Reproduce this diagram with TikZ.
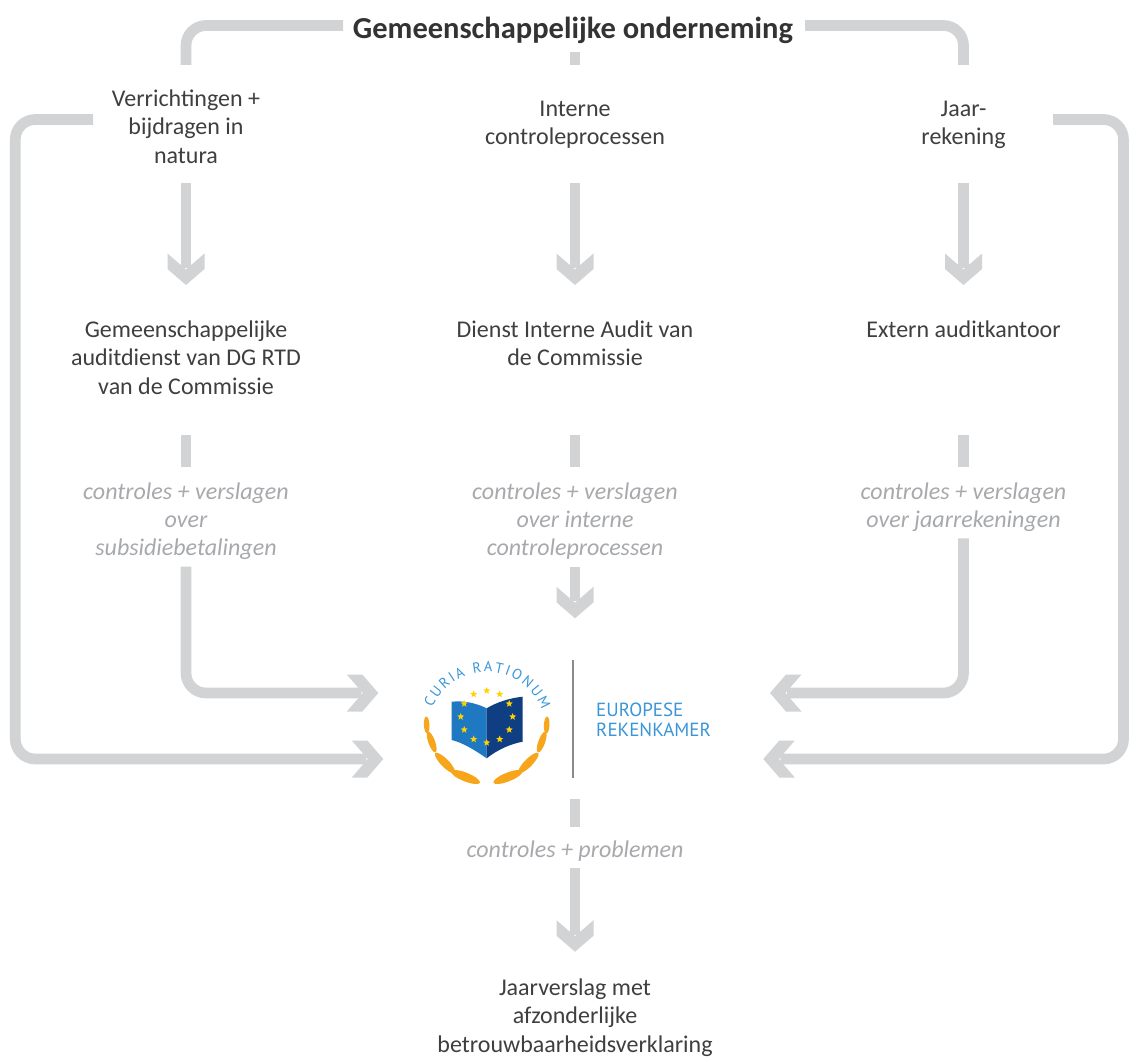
\documentclass[tikz,border=0pt]{standalone}
\usepackage{fontspec}
\setmainfont{Carlito}
\newfontfamily\logofont{PT Sans}
\usetikzlibrary{arrows.meta,shapes.geometric,decorations.text,calc}

\definecolor{lgray}{HTML}{D1D3D4}
\definecolor{tdark}{HTML}{3F3F3F}
\definecolor{thead}{HTML}{333333}
\definecolor{lblgray}{HTML}{A7A9AC}
\definecolor{lblue}{HTML}{3A96D8}
\definecolor{bookL}{HTML}{1E78C2}
\definecolor{bookR}{HTML}{0F3E83}
\definecolor{starc}{HTML}{FFD200}
\definecolor{leafc}{HTML}{F7A61C}
\definecolor{sepc}{HTML}{8A8A8A}

\pgfdeclarearrow{
  name = Chev,
  setup code = {
    \pgfarrowssettipend{0pt}
    \pgfarrowssetlineend{-17pt}
    \pgfarrowssetvisualbackend{-31.5pt}
    \pgfarrowssetbackend{-31.5pt}
    \pgfarrowshullpoint{0pt}{0pt}
    \pgfarrowsupperhullpoint{-31.5pt}{18.5pt}
  },
  drawing code = {
    \pgfpathmoveto{\pgfqpoint{0pt}{0pt}}
    \pgfpathlineto{\pgfqpoint{-16pt}{18.5pt}}
    \pgfpathlineto{\pgfqpoint{-31.5pt}{18.5pt}}
    \pgfpathlineto{\pgfqpoint{-15.5pt}{0pt}}
    \pgfpathlineto{\pgfqpoint{-31.5pt}{-18.5pt}}
    \pgfpathlineto{\pgfqpoint{-16pt}{-18.5pt}}
    \pgfpathclose
    \pgfusepathqfill
  },
}

\newcommand{\fl}{\rule{0pt}{20pt}}

\tikzset{
  conn/.style={line width=10.7pt, color=lgray, rounded corners=20pt},
  arr/.style={conn, -Chev},
  txt/.style={inner sep=0pt, align=center, text=tdark, font=\fontsize{24}{28.6}\selectfont, anchor=north},
  lbl/.style={txt, text=lblgray, font=\fontsize{24}{28.3}\selectfont\itshape},
  starn/.style={star, star points=5, star point ratio=2.4, fill=starc, draw=none, inner sep=0pt, minimum size=7.5pt},
}

\begin{document}
\begin{tikzpicture}[x=1pt,y=1pt]
\fill[white] (0,0) rectangle (1129,-1057);
\useasboundingbox (0,0) rectangle (1129,-1057);

% ---------- connector end points ----------
\coordinate (hdL) at (343,-25.5);
\coordinate (hdR) at (805,-25.5);
\coordinate (hdM) at (575,-52);
\coordinate (v1in) at (186,-65);
\coordinate (icin) at (575,-65);
\coordinate (jrin) at (963.5,-65);
\coordinate (v1out) at (93,-119.5);
\coordinate (jrout) at (1053,-119.5);
\coordinate (v1dn) at (186,-183.3);
\coordinate (icdn) at (575,-183.3);
\coordinate (jrdn) at (963.5,-183.3);
\coordinate (gain) at (186,-285);
\coordinate (iain) at (575,-285);
\coordinate (eain) at (963.5,-285);
\coordinate (gadn) at (186,-435);
\coordinate (iadn) at (575,-435);
\coordinate (eadn) at (963.5,-435);
\coordinate (l1in) at (186,-467);
\coordinate (l2in) at (575,-467);
\coordinate (l3in) at (963.5,-467);
\coordinate (l1dn) at (186,-566.7);
\coordinate (l2dn) at (575,-566.7);
\coordinate (l3dn) at (963.5,-538.3);
\coordinate (ecaL1) at (378.3,-693);
\coordinate (ecaM) at (575,-618.3);
\coordinate (ecaR1) at (770,-693);
\coordinate (ecaL2) at (383.3,-759);
\coordinate (ecaR2) at (763.3,-759);
\coordinate (ecadn) at (575,-799.3);
\coordinate (l4in) at (575,-826.7);
\coordinate (l4dn) at (575,-868.3);
\coordinate (jvin) at (575,-951.7);

% ---------- connectors ----------
\draw[conn] (hdL) -| (v1in);
\draw[conn] (hdR) -| (jrin);
\draw[conn] (hdM) -- (icin);
\draw[arr] (v1out) -| (15.3,-759) -- (ecaL2);
\draw[arr] (jrout) -| (1123.5,-759) -- (ecaR2);
\draw[arr] (v1dn) -- (gain);
\draw[arr] (icdn) -- (iain);
\draw[arr] (jrdn) -- (eain);
\draw[conn] (gadn) -- (l1in);
\draw[conn] (iadn) -- (l2in);
\draw[conn] (eadn) -- (l3in);
\draw[arr] (l1dn) |- (ecaL1);
\draw[arr] (l2dn) -- (ecaM);
\draw[arr] (l3dn) |- (ecaR1);
\draw[conn] (ecadn) -- (l4in);
\draw[arr] (l4dn) -- (jvin);

% ---------- texts ----------
\node[inner sep=0pt, anchor=base, text=thead, font=\fontsize{30.5}{36}\selectfont\bfseries] (hd) at (573,-38) {Gemeenschappelijke onderneming};
\node[txt] (v1) at (186,-86) {\fl Verrichtingen +\\bijdragen in\\natura};
\node[txt] (ic) at (575,-96) {\fl Interne\\controleprocessen};
\node[txt] (jr) at (963.5,-96) {\fl Jaar-\\rekening};
\node[txt] (ga) at (186,-317) {\fl Gemeenschappelijke\\auditdienst van DG RTD\\van de Commissie};
\node[txt] (ia) at (575,-317) {\fl Dienst Interne Audit van\\de Commissie};
\node[txt] (ea) at (963.5,-317) {\fl Extern auditkantoor};
\node[lbl] (l1) at (186,-479) {\fl controles + verslagen\\over\\subsidiebetalingen};
\node[lbl] (l2) at (575,-479) {\fl controles + verslagen\\over interne\\controleprocessen};
\node[lbl] (l3) at (963.5,-479) {\fl controles + verslagen\\over jaarrekeningen};
\node[lbl] (l4) at (575,-837) {\fl controles + problemen};
\node[txt] (jv) at (575,-975) {\fl Jaarverslag met\\afzonderlijke\\betrouwbaarheidsverklaring};

% ---------- logo ----------
% book
\fill[bookL] (451.7,-701.7) .. controls (464,-700.5) and (476,-703) .. (486.7,-708.3) -- (486.7,-758.3) .. controls (476,-751) and (464,-743) .. (451.7,-740) -- cycle;
\fill[bookR] (486.7,-708.3) .. controls (497,-702) and (510,-698) .. (522.7,-696.7) -- (522.7,-741.7) .. controls (510,-744) and (497,-750) .. (486.7,-758.3) -- cycle;
% stars
\foreach \a in {0,30,...,330}
  \node[starn] at ([shift={(\a:26)}]486.7,-716.7) {};
% laurel
\foreach \x/\y/\r/\l/\w in {426.7/-725/92.9/8.5/2.8, 431.7/-742/109.7/11/3.4, 445/-763/134.5/14/4, 465.5/-777/158.4/15.5/4.4}{
  \fill[leafc, rotate around={\r:(\x,\y)}] (\x,\y) ellipse [x radius=\l, y radius=\w];
  \pgfmathsetmacro{\xm}{973.4-\x}
  \pgfmathsetmacro{\rm}{180-\r}
  \fill[leafc, rotate around={\rm:(\xm,\y)}] (\xm,\y) ellipse [x radius=\l, y radius=\w];
}
% arc text
\path[decorate, decoration={text along path, text={|\logofont\fontsize{14.5}{14.5}\selectfont\color{lblue}|CURIA RATIONUM}, text align={fit to path}}]
  (486.7,-731) ++(157:59) arc[start angle=157, end angle=21, radius=59];
% separator
\draw[sepc, line width=1.3pt] (573,-660) -- (573,-778);
\node[anchor=base west, inner sep=0pt, text=lblue, font=\logofont\fontsize{19}{19}\selectfont] (er1) at (596,-716.7) {EUROPESE};
\node[anchor=base west, inner sep=0pt, text=lblue, font=\logofont\fontsize{19}{19}\selectfont] (er2) at (596,-736) {REKENKAMER};
\end{tikzpicture}
\end{document}
